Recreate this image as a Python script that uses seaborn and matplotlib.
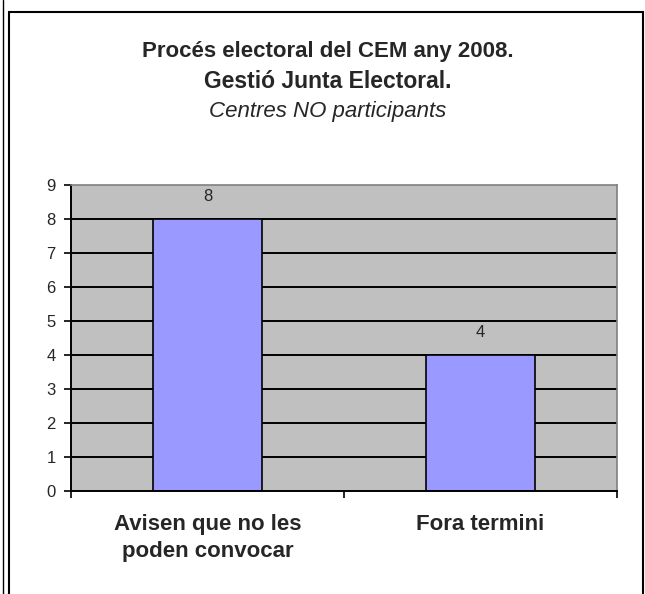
import matplotlib
matplotlib.use('Agg')
import matplotlib.pyplot as plt
import seaborn as sns
import pandas as pd
from matplotlib.patches import Rectangle
from matplotlib.lines import Line2D

# Chart values
categories = ['Avisen que no les\npoden convocar', 'Fora termini']
values = [8, 4]
y_ticks = [0, 1, 2, 3, 4, 5, 6, 7, 8, 9]

df = pd.DataFrame({'Motiu': categories, 'Centres': values})

sns.set_style('white')
plt.rcParams['font.family'] = ['Liberation Sans', 'DejaVu Sans']

fig = plt.figure(figsize=(6.45, 5.94), dpi=100)
ax = fig.add_axes([71 / 645, 1 - 491 / 594, 546 / 645, 306 / 594])

sns.barplot(x='Motiu', y='Centres', data=df, color='#9999FF', width=0.4,
            edgecolor='black', linewidth=1.2, saturation=1, ax=ax)

ax.set_facecolor('#C0C0C0')
ax.set_xlim(-0.5, 1.5)
ax.set_ylim(0, 9)
ax.set_yticks(y_ticks)
ax.set_yticklabels([str(t) for t in y_ticks], fontsize=12)
ax.yaxis.grid(True, color='black', linewidth=1.4)
ax.set_axisbelow(True)
gl = ax.get_ygridlines()
gl[0].set_visible(False)
gl[-1].set_visible(False)

# category labels centred, tick marks at category boundaries
ax.set_xticks([0, 1])
ax.set_xticklabels(categories, fontsize=16, fontweight='bold', linespacing=1.35)
ax.tick_params(axis='x', which='major', length=0, pad=16.5)
ax.set_xticks([-0.5, 0.5, 1.5], minor=True)
ax.tick_params(axis='x', which='minor', length=5, width=1.2, direction='out',
               color='black', bottom=True)
ax.tick_params(axis='y', length=5, width=1.2, direction='out', color='black',
               left=True, pad=6)
ax.set_xlabel('')
ax.set_ylabel('')

for side in ['left', 'bottom']:
    ax.spines[side].set_color('black')
    ax.spines[side].set_linewidth(1.4)
for side in ['top', 'right']:
    ax.spines[side].set_color('#808080')
    ax.spines[side].set_linewidth(1.2)

# value labels above bars
for i, v in enumerate(values):
    ax.text(i, v + 0.45, str(v), ha='center', va='bottom', fontsize=12)

# titles
fig.text(328 / 645, 1 - 52 / 594, 'Procés electoral del CEM any 2008.',
         ha='center', va='center', fontsize=16, fontweight='bold')
fig.text(328 / 645, 1 - 82 / 594, 'Gestió Junta Electoral.',
         ha='center', va='center', fontsize=16.5, fontweight='bold')
fig.text(328 / 645, 1 - 111 / 594, 'Centres NO participants',
         ha='center', va='center', fontsize=16, style='italic')

# outer frame
fig.add_artist(Rectangle((9 / 645, -0.05), 634 / 645, 1.05 - 12 / 594,
                         transform=fig.transFigure, fill=False,
                         edgecolor='black', linewidth=1.5))
fig.add_artist(Line2D([3 / 645, 3 / 645], [0, 1], transform=fig.transFigure,
                      color='black', linewidth=1.0))

fig.savefig('out.png', dpi=100)
